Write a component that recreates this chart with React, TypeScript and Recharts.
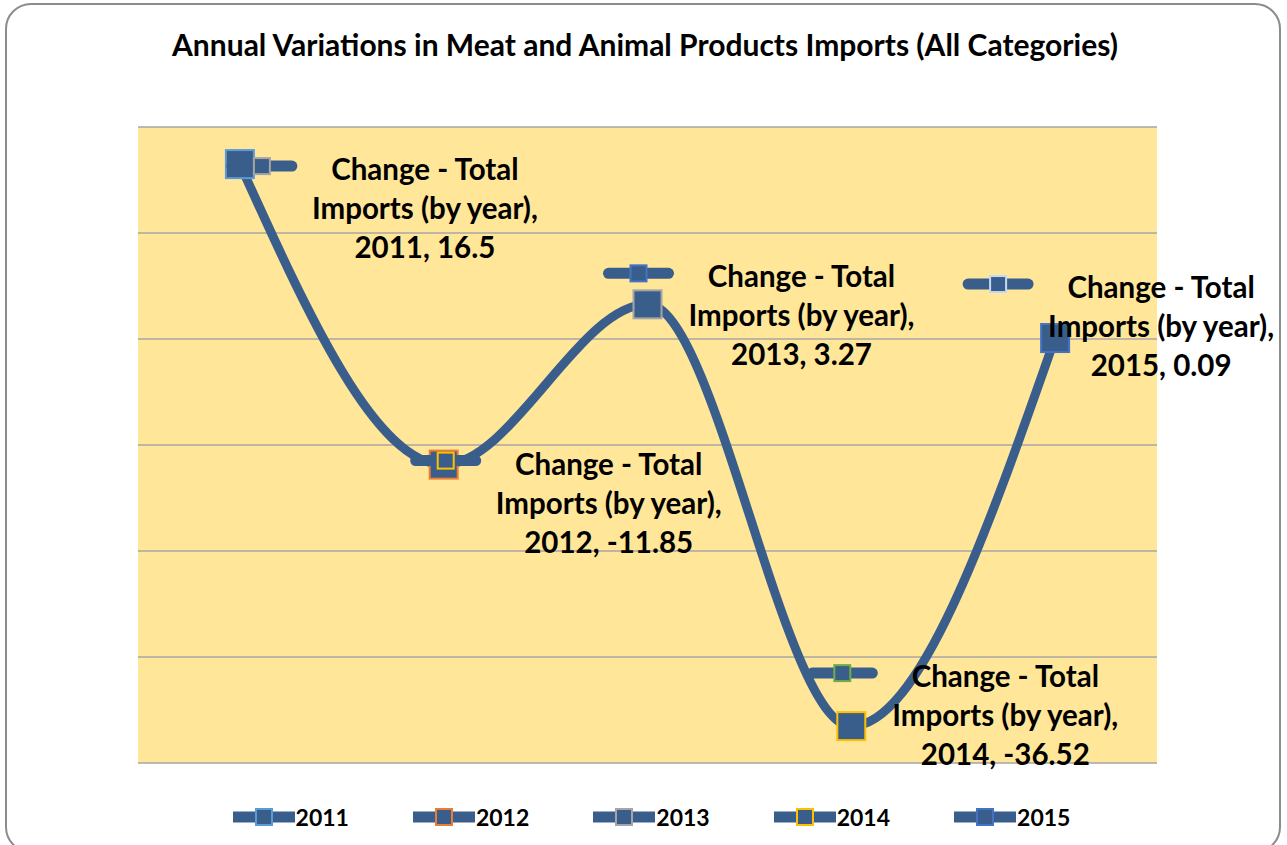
import { LineChart, Line, XAxis, YAxis, CartesianGrid, LabelList } from 'recharts';

// chart values
const years = ['2011', '2012', '2013', '2014', '2015'];
const changeValues = [16.5, -11.85, 3.27, -36.52, 0.09];
const yTicks = [-40, -30, -20, -10, 0, 10, 20];
const seriesName = 'Change - Total Imports (by year)';

const data = years.map((year, i) => ({ year, change: changeValues[i] }));

// styling
const LINE = '#3A5E8C';
const FONT = 'Lato, "Open Sans", sans-serif';
const markerBorders = ['#5B9BD5', '#ED7D31', '#A5A5A5', '#FFC000', '#4472C4'];
const keyBorders = ['#A5A5A5', '#FFC000', '#4472C4', '#70AD47', '#C5D9F1'];
// label block position (first line centre) relative to its point
const labelOffsets: [number, number][] = [
  [185, 6], [165, 0], [154, -27], [154, -49], [106, -50],
];

const MarkerDot = (props: any) => {
  const { cx, cy, index } = props;
  if (cx == null || cy == null) return null;
  return (
    <rect key={`dot-${index}`} x={cx - 14} y={cy - 14} width={28} height={28}
      fill={LINE} stroke={markerBorders[index]} strokeWidth={2} />
  );
};

const KeyGlyph = ({ x, y, border }: { x: number; y: number; border: string }) => (
  <g>
    <line x1={x - 30} y1={y} x2={x + 30} y2={y} stroke={LINE} strokeWidth={11} strokeLinecap="round" />
    <rect x={x - 8} y={y - 8} width={16} height={16} fill={LINE} stroke={border} strokeWidth={2} />
  </g>
);

const PointLabel = (props: any) => {
  const { x, y, index } = props;
  if (x == null || y == null) return null;
  const [dx, dy] = labelOffsets[index];
  const cx = x + dx;
  const top = y + dy;
  const lines = ['Change - Total', 'Imports (by year),', `${years[index]}, ${changeValues[index]}`];
  return (
    <g>
      <KeyGlyph x={cx - 163} y={top - 4} border={keyBorders[index]} />
      {lines.map((t, i) => (
        <text key={i} x={cx} y={top + i * 39 + 10} textAnchor="middle"
          fontFamily={FONT} fontWeight={700} fontSize={29.5} fill="#000">
          {t}
        </text>
      ))}
    </g>
  );
};

const ChartLegend = () => (
  <div style={{
    position: 'absolute', left: 0, top: 803, width: 1287,
    display: 'flex', justifyContent: 'center', gap: 64, paddingLeft: 16, boxSizing: 'border-box', fontFamily: FONT,
  }}>
    {years.map((yr, i) => (
      <div key={yr} style={{ display: 'flex', alignItems: 'center' }}>
        <svg width={62} height={20}>
          <KeyGlyph x={31} y={10} border={markerBorders[i]} />
        </svg>
        <span style={{ fontWeight: 700, fontSize: 23, color: '#000', marginLeft: 1 }}>{yr}</span>
      </div>
    ))}
  </div>
);

export default function App() {
  return (
    <div style={{ position: 'relative', width: 1287, height: 845, background: '#fff', overflow: 'hidden' }}>
      <style>{'body{margin:0}'}</style>
      <div style={{
        position: 'absolute', left: 5, top: 3, width: 1276, height: 850,
        border: '2px solid #8C8C8C', borderRadius: 26, boxSizing: 'border-box',
      }} />
      <div style={{
        position: 'absolute', left: 0, top: 26, width: 1290, textAlign: 'center',
        fontFamily: FONT, fontWeight: 700, fontSize: 30, color: '#000',
      }}>
        Annual Variations in Meat and Animal Products Imports (All Categories)
      </div>
      <div style={{ position: 'absolute', left: 0, top: 0 }}>
        <LineChart width={1287} height={845} data={data}
          margin={{ top: 127, right: 130, bottom: 82, left: 138 }}>
          <CartesianGrid vertical={false} stroke="#A6A6A6" strokeWidth={1.5} fill="#FFE699" fillOpacity={1} />
          <XAxis dataKey="year" scale="band" hide />
          <YAxis hide domain={[-40, 20]} ticks={yTicks} />
          <Line type="monotone" dataKey="change" name={seriesName} stroke={LINE} strokeWidth={9}
            strokeLinecap="round" dot={<MarkerDot />} activeDot={false} isAnimationActive={false}>
            <LabelList dataKey="change" content={<PointLabel />} />
          </Line>
        </LineChart>
      </div>
      <ChartLegend />
    </div>
  );
}
